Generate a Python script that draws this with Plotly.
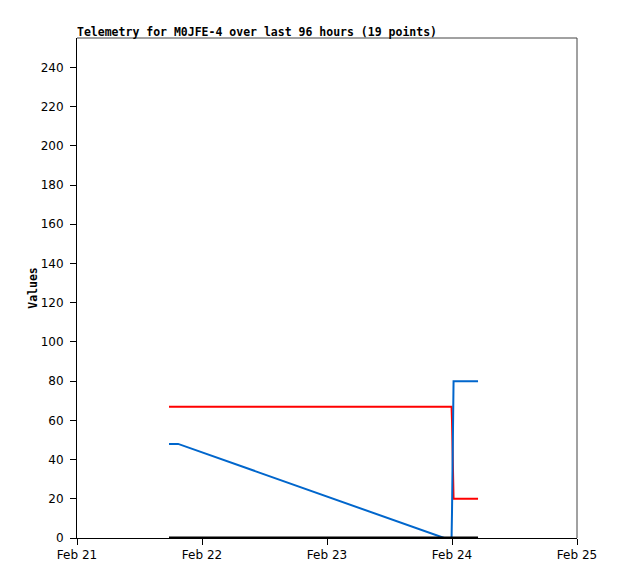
import plotly.graph_objects as go

# telemetry samples
times = [
    "2024-02-21 17:40", "2024-02-21 19:25", "2024-02-23 22:30", "2024-02-23 23:55",
    "2024-02-24 00:00", "2024-02-24 00:03", "2024-02-24 00:06", "2024-02-24 00:09",
    "2024-02-24 00:12", "2024-02-24 00:15", "2024-02-24 00:18", "2024-02-24 00:40",
    "2024-02-24 01:10", "2024-02-24 01:40", "2024-02-24 02:10", "2024-02-24 02:50",
    "2024-02-24 03:30", "2024-02-24 04:20", "2024-02-24 05:00",
]
blue_vals = [48, 48, 0, 0, 13, 25, 40, 55, 67, 75, 80, 80, 80, 80, 80, 80, 80, 80, 80]
red_vals = [67, 67, 67, 67, 60, 52, 44, 36, 28, 24, 20, 20, 20, 20, 20, 20, 20, 20, 20]
black_vals = [0] * 19

x_range = ["2024-02-21", "2024-02-25"]
y_ticks = list(range(0, 241, 20))

fig = go.Figure()
fig.add_trace(go.Scatter(x=times, y=red_vals, mode="lines",
                         line=dict(color="#ff0000", width=2), hoverinfo="skip"))
fig.add_trace(go.Scatter(x=times, y=blue_vals, mode="lines",
                         line=dict(color="#0066cc", width=2), hoverinfo="skip"))
fig.add_trace(go.Scatter(x=times, y=black_vals, mode="lines",
                         line=dict(color="#000000", width=3), hoverinfo="skip",
                         cliponaxis=False))

tick_font = dict(family="DejaVu Sans", size=12, color="#000000")

# page body adds ~8px, so the figure is a bit smaller than the window
fig.update_layout(
    width=610,
    height=571,
    margin=dict(l=69, r=41, t=30, b=41),
    paper_bgcolor="white",
    plot_bgcolor="white",
    showlegend=False,
    xaxis=dict(
        type="date",
        range=x_range,
        dtick=86400000,
        tickformat="%b %d",
        ticks="outside",
        ticklen=6,
        tickcolor="#000000",
        showgrid=False,
        zeroline=False,
        showline=True,
        linecolor="#000000",
        linewidth=1,
        tickfont=tick_font,
        automargin=False,
    ),
    yaxis=dict(
        range=[0, 255],
        tickvals=y_ticks,
        ticks="outside",
        ticklen=6,
        tickcolor="#000000",
        ticklabelstandoff=4,
        showgrid=False,
        zeroline=False,
        showline=True,
        linecolor="#000000",
        linewidth=1,
        tickfont=tick_font,
        automargin=False,
        title=dict(text="<b>Values</b>", standoff=0,
                   font=dict(family="DejaVu Sans Mono", size=11.5, color="#000000")),
    ),
    shapes=[
        dict(type="line", xref="paper", yref="paper", x0=0, x1=1, y0=1, y1=1,
             line=dict(color="#444444", width=1)),
        dict(type="line", xref="paper", yref="paper", x0=1, x1=1, y0=0, y1=1,
             line=dict(color="#444444", width=1)),
    ],
    annotations=[
        dict(text="<b>Telemetry for M0JFE-4 over last 96 hours (19 points)</b>",
             xref="paper", yref="paper", x=0, y=1, xanchor="left", yanchor="bottom",
             showarrow=False, yshift=-3, xshift=-2,
             font=dict(family="DejaVu Sans Mono", size=11.5, color="#000000")),
    ],
)

fig.write_html("out.html")
